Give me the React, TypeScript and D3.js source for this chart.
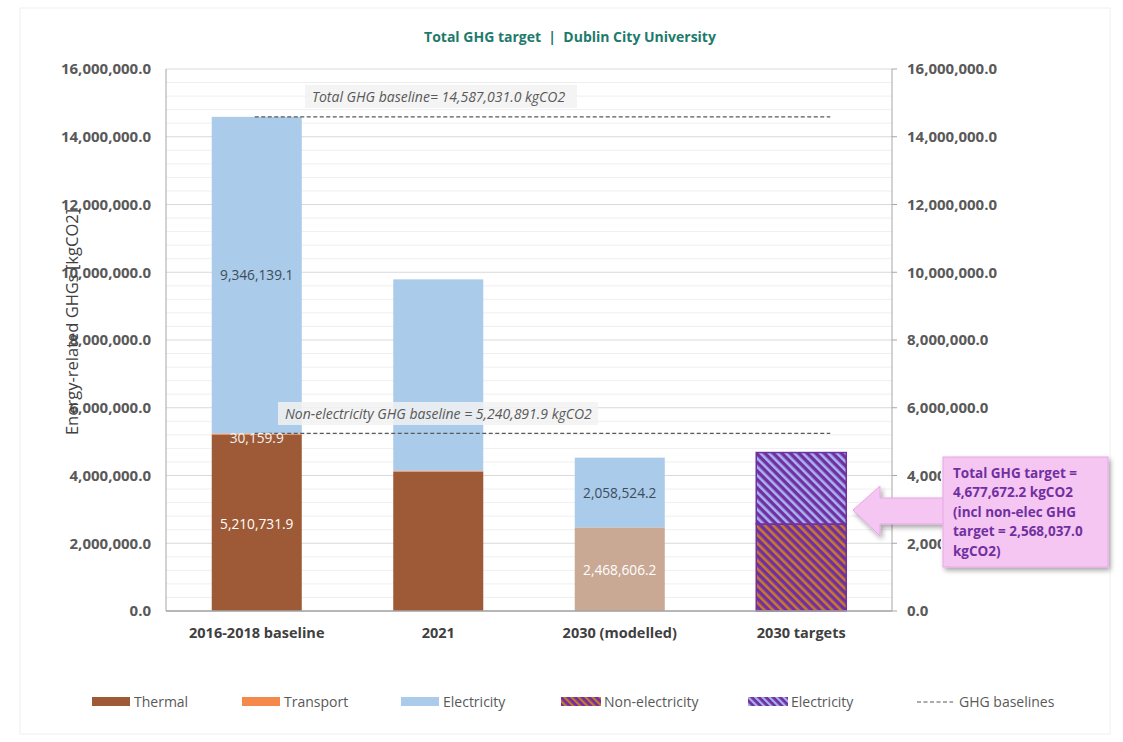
import React from "react";
import * as d3 from "d3";

const categories = ["2016-2018 baseline", "2021", "2030 (modelled)", "2030 targets"];
const thermal = [5210731.9, 4110000, 2468606.2, 0];
const transport = [30159.9, 25000, 0, 0];
const electricity = [9346139.1, 5655000, 2058524.2, 0];
const targetNonElec = [0, 0, 0, 2568037.0];
const targetElec = [0, 0, 0, 2109635.2];
const baselines = [14587031.0, 5240891.9];
const baselineLabels = [
  "Total GHG baseline= 14,587,031.0 kgCO2",
  "Non-electricity GHG baseline = 5,240,891.9 kgCO2",
];
const yTicks = [0, 2000000, 4000000, 6000000, 8000000, 10000000, 12000000, 14000000, 16000000];
const calloutLines = [
  "Total GHG target =",
  "4,677,672.2 kgCO2",
  "(incl non-elec GHG",
  "target = 2,568,037.0",
  "kgCO2)",
];
const legendItems = [
  { label: "Thermal", kind: "thermal" },
  { label: "Transport", kind: "transport" },
  { label: "Electricity", kind: "elec" },
  { label: "Non-electricity", kind: "hnon" },
  { label: "Electricity", kind: "helec" },
  { label: "GHG baselines", kind: "dash" },
];

const FONT = "'Open Sans', 'Liberation Sans', sans-serif";
const C_THERMAL = "#9E5A36";
const C_TRANSPORT = "#F4894B";
const C_ELEC = "#AACBEA";
const C_THERMAL_LIGHT = "#C9A894";
const C_PURPLE = "#7030A0";
const C_GRAY = "#595959";

export default function App() {
  const left = 166, right = 892, top = 69, bottom = 611;
  const x = d3.scaleBand<string>().domain(categories).range([left, right]).paddingInner(0.504).paddingOuter(0.252);
  const y = d3.scaleLinear().domain([0, 16000000]).range([bottom, top]);
  const fmt = (v: number) => d3.format(",.1f")(v);
  const bw = x.bandwidth();
  const minorTicks = d3.range(0, 16000001, 400000);

  const segs: { cat: string; y0: number; y1: number; fill: string; stroke?: string }[] = [];
  categories.forEach((c, i) => {
    let acc = 0;
    const push = (v: number, fill: string, stroke?: string) => {
      if (v > 0) {
        segs.push({ cat: c, y0: acc, y1: acc + v, fill, stroke });
        acc += v;
      }
    };
    push(thermal[i], i === 2 ? C_THERMAL_LIGHT : C_THERMAL);
    push(transport[i], C_TRANSPORT);
    push(electricity[i], C_ELEC);
    push(targetNonElec[i], "url(#hatchNon)", C_PURPLE);
    push(targetElec[i], "url(#hatchElec)", C_PURPLE);
  });

  const cx = (i: number) => (x(categories[i]) as number) + bw / 2;
  const lineX0 = cx(0) - 2;
  const lineX1 = cx(3) + 29;

  const labels = [
    { i: 0, v: electricity[0], mid: thermal[0] + transport[0] + electricity[0] / 2, color: "#3E4B5A" },
    { i: 0, v: transport[0], mid: thermal[0] + transport[0] - 150000, color: "#F2F2F2" },
    { i: 0, v: thermal[0], mid: thermal[0] / 2 - 50000, color: "#FFFFFF" },
    { i: 2, v: electricity[2], mid: thermal[2] + electricity[2] / 2 - 30000, color: "#3E4B5A" },
    { i: 2, v: thermal[2], mid: thermal[2] / 2 - 40000, color: "#FFFFFF" },
  ];

  const legX = [92, 242, 401, 561, 748, 917];

  return (
    <svg width={1123} height={742} style={{ position: "absolute", left: 0, top: 0, background: "#fff" }} fontFamily={FONT}>
      <defs>
        <pattern id="hatchNon" patternUnits="userSpaceOnUse" width={6} height={6} patternTransform="rotate(-45)">
          <rect width={6} height={6} fill={C_PURPLE} />
          <rect x={0} y={0} width={2.6} height={6} fill="#C8792E" />
        </pattern>
        <pattern id="hatchElec" patternUnits="userSpaceOnUse" width={6} height={6} patternTransform="rotate(-45)">
          <rect width={6} height={6} fill={C_PURPLE} />
          <rect x={0} y={0} width={2.6} height={6} fill="#A9B3F2" />
        </pattern>
        <pattern id="hatchNonL" patternUnits="userSpaceOnUse" width={5} height={5} patternTransform="rotate(-45)">
          <rect width={5} height={5} fill={C_PURPLE} />
          <rect x={0} y={0} width={2.2} height={5} fill="#C8792E" />
        </pattern>
        <pattern id="hatchElecL" patternUnits="userSpaceOnUse" width={5} height={5} patternTransform="rotate(-45)">
          <rect width={5} height={5} fill={C_PURPLE} />
          <rect x={0} y={0} width={2.2} height={5} fill="#A9B3F2" />
        </pattern>
        <filter id="shadow" x="-20%" y="-20%" width="140%" height="150%">
          <feDropShadow dx={2} dy={3} stdDeviation={2.5} floodColor="#000" floodOpacity={0.35} />
        </filter>
        <clipPath id="rightClip">
          <rect x={895} y={0} width={46} height={742} />
        </clipPath>
      </defs>

      <rect x={20} y={8} width={1090} height={726} fill="none" stroke="#F0F0F0" />

      <text x={570} y={42} textAnchor="middle" fontSize={14} fontWeight="bold" fill="#1E7A6C">
        Total GHG target&#160;&#160;|&#160;&#160;Dublin City University
      </text>

      {minorTicks.map((t) => (
        <line key={"m" + t} x1={left} x2={right} y1={y(t)} y2={y(t)} stroke={t % 2000000 === 0 ? "#D9D9D9" : "#EFEFEF"} strokeWidth={1} />
      ))}

      <line x1={left} x2={left} y1={top} y2={bottom} stroke="#A6A6A6" />
      <line x1={right} x2={right} y1={top} y2={bottom} stroke="#A6A6A6" />
      {yTicks.map((t) => (
        <line key={"rt" + t} x1={right} x2={right + 5} y1={y(t)} y2={y(t)} stroke="#A6A6A6" />
      ))}
      {yTicks.map((t) => (
        <text key={"l" + t} x={151} y={y(t)} dy="0.35em" textAnchor="end" fontSize={15} fontWeight="bold" fill={C_GRAY}>
          {fmt(t)}
        </text>
      ))}
      {yTicks.map((t) => (
        <text key={"r" + t} x={907} y={y(t)} dy="0.35em" textAnchor="start" fontSize={15} fontWeight="bold" fill={C_GRAY}
          clipPath={t > 0 && t < 6000000 ? "url(#rightClip)" : undefined}>
          {t > 0 && t < 6000000 ? fmt(t).slice(0, 5) : fmt(t)}
        </text>
      ))}

      {segs.map((s, k) => (
        <rect key={k} x={x(s.cat)} y={y(s.y1)} width={bw} height={y(s.y0) - y(s.y1)} fill={s.fill}
          stroke={s.stroke || "none"} strokeWidth={s.stroke ? 1.5 : 0} />
      ))}
      <line x1={left} x2={right} y1={bottom} y2={bottom} stroke="#A6A6A6" strokeWidth={1.5} />

      {baselines.map((b, k) => (
        <line key={"b" + k} x1={lineX0} x2={lineX1} y1={y(b)} y2={y(b)} stroke="#595959" strokeWidth={1.2} strokeDasharray="4,2.5" />
      ))}
      <rect x={305} y={85} width={272} height={23} fill="#F2F2F2" opacity={0.85} />
      <text x={312} y={97} dy="0.35em" fontSize={14} fontStyle="italic" fill={C_GRAY}>{baselineLabels[0]}</text>
      <rect x={278} y={402} width={320} height={23} fill="#F2F2F2" opacity={0.85} />
      <text x={285} y={414} dy="0.35em" fontSize={14} fontStyle="italic" fill={C_GRAY}>{baselineLabels[1]}</text>

      {labels.map((l, k) => (
        <text key={"dl" + k} x={cx(l.i)} y={y(l.mid)} dy="0.35em" textAnchor="middle" fontSize={13.7} fill={l.color}>
          {fmt(l.v)}
        </text>
      ))}

      {categories.map((c) => (
        <text key={c} x={(x(c) as number) + bw / 2} y={633} dy="0.35em" textAnchor="middle" fontSize={14.5} fontWeight="bold" fill="#404040">
          {c}
        </text>
      ))}

      <text transform={`translate(78,322) rotate(-90)`} textAnchor="middle" fontSize={16.5} fill="#404040">
        Energy-related GHGs [kgCO2]
      </text>

      <g filter="url(#shadow)">
        <polygon points="853,510 880,486 880,498 944,498 944,524 880,524 880,536"
          fill="#F6C6F3" stroke="#E8A6E6" strokeWidth={1} />
        <rect x={943} y={457} width={165} height={110} fill="#F6C6F3" stroke="#E8A6E6" strokeWidth={1} />
      </g>
      {calloutLines.map((t, k) => (
        <text key={"c" + k} x={953} y={473 + k * 19.5} dy="0.35em" fontSize={13.5} fontWeight="bold" fill={C_PURPLE}>
          {t}
        </text>
      ))}

      {legendItems.map((it, k) => {
        const lx = legX[k];
        const ly = 702;
        let sw: React.ReactNode = null;
        if (it.kind === "dash") {
          sw = <line x1={lx} x2={lx + 36} y1={ly} y2={ly} stroke="#595959" strokeWidth={1.2} strokeDasharray="4,2.5" />;
        } else {
          const fill =
            it.kind === "thermal" ? C_THERMAL :
            it.kind === "transport" ? C_TRANSPORT :
            it.kind === "elec" ? C_ELEC :
            it.kind === "hnon" ? "url(#hatchNonL)" : "url(#hatchElecL)";
          sw = <rect x={lx} y={ly - 5} width={it.kind.startsWith("h") ? 40 : 38} height={9} fill={fill} />;
        }
        const tx = it.kind.startsWith("h") ? lx + 43 : lx + 42;
        return (
          <g key={"lg" + k}>
            {sw}
            <text x={tx} y={ly} dy="0.35em" fontSize={14} fill={C_GRAY}>{it.label}</text>
          </g>
        );
      })}
    </svg>
  );
}
